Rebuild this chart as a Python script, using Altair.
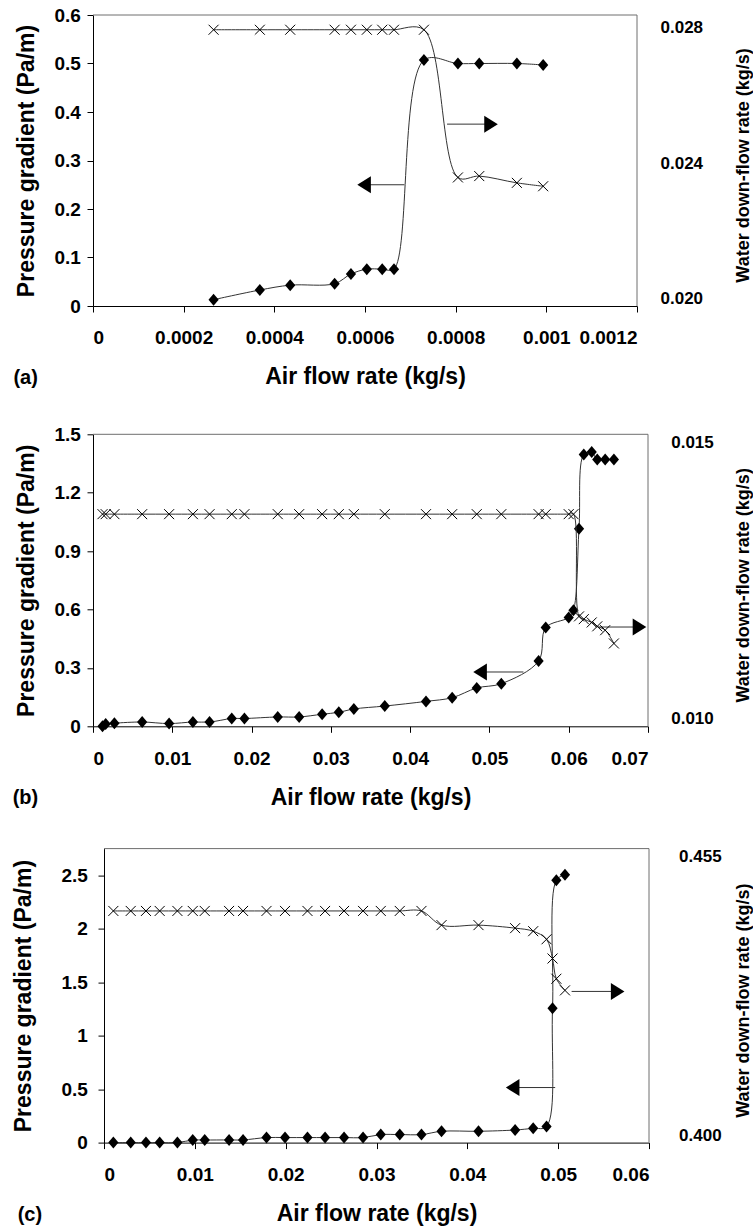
import altair as alt
import pandas as pd

FONT = "Liberation Sans"

# ---------------- Panel (a) ----------------
a_air = [0.000266, 0.000368, 0.000435, 0.000533, 0.000569, 0.000604, 0.000638,
         0.000664, 0.000730, 0.000805, 0.000852, 0.000935, 0.000993]
a_dp = [0.013, 0.033, 0.043, 0.046, 0.066, 0.076, 0.076, 0.076, 0.507, 0.500,
        0.500, 0.500, 0.497]
a_water = [0.02794, 0.02794, 0.02794, 0.02794, 0.02794, 0.02794, 0.02794,
           0.02794, 0.02794, 0.02358, 0.02362, 0.02342, 0.02332]
a_xticks = [0, 0.0002, 0.0004, 0.0006, 0.0008, 0.001, 0.0012]
a_lticks = [0, 0.1, 0.2, 0.3, 0.4, 0.5, 0.6]
a_rticks = [0.020, 0.024, 0.028]
a_arrow_head = [0.000598, 0.000878]
a_arrow_tail = [0.000687, 0.000781]
a_arrow_y = [0.25, 0.375]
a_arrow_dir = ["left", "right"]

# ---------------- Panel (b) ----------------
b_air = [0.0012, 0.0016, 0.0027, 0.0062, 0.0096, 0.0126, 0.0147, 0.0175, 0.0191,
         0.0233, 0.0260, 0.0289, 0.0310, 0.0329, 0.0368, 0.0420, 0.0453, 0.0484,
         0.0515, 0.0562, 0.0571, 0.0600, 0.0606, 0.0613, 0.0619, 0.0629, 0.0636,
         0.0646, 0.0657]
b_dp = [0.0, 0.012, 0.016, 0.022, 0.014, 0.022, 0.022, 0.040, 0.040, 0.048, 0.048,
        0.062, 0.072, 0.089, 0.104, 0.128, 0.147, 0.197, 0.219, 0.335, 0.507,
        0.559, 0.596, 1.015, 1.396, 1.409, 1.370, 1.370, 1.370]
b_water = [0.0137, 0.0137, 0.0137, 0.0137, 0.0137, 0.0137, 0.0137, 0.0137, 0.0137,
           0.0137, 0.0137, 0.0137, 0.0137, 0.0137, 0.0137, 0.0137, 0.0137, 0.0137,
           0.0137, 0.0137, 0.0137, 0.0137, 0.0137, 0.01185, 0.01180, 0.01174,
           0.01167, 0.01160, 0.01136]
b_xticks = [0, 0.01, 0.02, 0.03, 0.04, 0.05, 0.06, 0.07]
b_lticks = [0, 0.3, 0.6, 0.9, 1.2, 1.5]
b_rticks = [0.010, 0.015]
b_arrow_head = [0.04882, 0.06893]
b_arrow_tail = [0.05429, 0.0638]
b_arrow_y = [0.279, 0.51]
b_arrow_dir = ["left", "right"]

# ---------------- Panel (c) ----------------
c_air = [0.00103, 0.00294, 0.00462, 0.00613, 0.00808, 0.00977, 0.01109, 0.01377,
         0.01531, 0.01789, 0.01993, 0.0224, 0.02434, 0.02643, 0.02852, 0.03047,
         0.03256, 0.03495, 0.03716, 0.04123, 0.04526, 0.04725, 0.04872, 0.04938,
         0.0498, 0.05075]
c_dp = [0, 0, 0, 0, 0, 0.024, 0.024, 0.025, 0.025, 0.047, 0.047, 0.047, 0.047,
        0.047, 0.047, 0.075, 0.075, 0.075, 0.106, 0.106, 0.118, 0.134, 0.150,
        1.257, 2.455, 2.505]
c_water = [0.4443, 0.4443, 0.4443, 0.4443, 0.4443, 0.4443, 0.4443, 0.4443,
           0.4443, 0.4443, 0.4443, 0.4443, 0.4443, 0.4443, 0.4443, 0.4443,
           0.4443, 0.4443, 0.4415, 0.4415, 0.4409, 0.4403, 0.4387, 0.4349,
           0.4309, 0.4286]
c_xticks = [0, 0.01, 0.02, 0.03, 0.04, 0.05, 0.06]
c_lticks = [0, 0.5, 1, 1.5, 2, 2.5]
c_rticks = [0.400, 0.455]
c_arrow_head = [0.04499, 0.05655]
c_arrow_tail = [0.04967, 0.05148]
c_arrow_y = [0.515, 1.414]
c_arrow_dir = ["left", "right"]

X_PATH = "M-1,-1L1,1M-1,1L1,-1"
DIAMOND_PATH = "M0,-1L0.85,0L0,1L-0.85,0Z"
TRI_LEFT = "M-0.8,0L0.8,-1L0.8,1Z"
TRI_RIGHT = "M0.8,0L-0.8,-1L-0.8,1Z"
LINE_COLOR = "#333333"
FRAME_COLOR = "#6e6e6e"
ORIGIN = 92.3          # common left edge of the plot group in the page
RTITLE_X = 743         # page x of the right-hand axis title centre


def panel(tag, air, dp, water, xdom, xticks, ldom, lticks, rdom, rticks,
          ahead, atail, ay, adir, W, H, shift, spacer_top, spacer_bottom,
          lpad, ltpad, rpad, tag_left):
    # shift: how far the plot frame starts right of the common origin
    df = pd.DataFrame({"air": air, "dp": dp, "water": water})
    arr = pd.DataFrame({"head": ahead, "tail": atail, "y": ay, "dir": adir})
    one = pd.DataFrame({"k": [0]})
    GW = W + shift

    xscale = alt.Scale(domain=xdom, nice=False, zero=False, range=[shift, GW])
    xaxis = alt.Axis(values=xticks, labelExpr="toString(datum.value)",
                     title="Air flow rate (kg/s)",
                     grid=False, tickSize=6, labelPadding=16.7, titlePadding=18.1,
                     labelFontSize=19, titleFontSize=23)

    def xe(field):
        return alt.X(f"{field}:Q", scale=xscale, axis=xaxis)

    lscale = alt.Scale(domain=ldom, nice=False, zero=False)
    laxis = alt.Axis(values=lticks, labelExpr="toString(datum.value)",
                     title="Pressure gradient (Pa/m)", offset=-shift,
                     orient="left", grid=False, tickSize=6, labelPadding=lpad,
                     titlePadding=ltpad, labelFontSize=19, titleFontSize=23)

    def ye(field):
        return alt.Y(f"{field}:Q", scale=lscale, axis=laxis)

    dp_line = alt.Chart(df).mark_line(
        interpolate="catmull-rom", color=LINE_COLOR, strokeWidth=1
    ).encode(x=xe("air"), y=ye("dp"))
    dp_pts = alt.Chart(df).mark_point(
        shape=DIAMOND_PATH, filled=True, size=144, color="black", opacity=1
    ).encode(x=xe("air"), y=ye("dp"))
    arr_rule = alt.Chart(arr).mark_rule(color=LINE_COLOR, strokeWidth=1).encode(
        x=xe("tail"), x2=alt.X2("head"), y=ye("y"))
    arr_left = alt.Chart(arr).transform_filter(alt.datum.dir == "left").mark_point(
        shape=TRI_LEFT, filled=True, size=289, color="black", opacity=1
    ).encode(x=xe("head"), y=ye("y"))
    arr_right = alt.Chart(arr).transform_filter(alt.datum.dir == "right").mark_point(
        shape=TRI_RIGHT, filled=True, size=289, color="black", opacity=1
    ).encode(x=xe("head"), y=ye("y"))
    # frame: top and right border of the plot area
    frame_top = alt.Chart(one).mark_rule(color=FRAME_COLOR, strokeWidth=1).encode(
        x=alt.value(shift), x2=alt.value(GW), y=alt.value(0))
    frame_right = alt.Chart(one).mark_rule(color=FRAME_COLOR, strokeWidth=1).encode(
        x=alt.value(GW), y=alt.value(0), y2=alt.value(H))
    spacer = alt.Chart(one).mark_rule(opacity=0).encode(
        x=alt.value(-ORIGIN), y=alt.value(-spacer_top),
        y2=alt.value(H + spacer_bottom))
    label = alt.Chart(one).mark_text(
        align="left", baseline="alphabetic", font=FONT, fontSize=20,
        fontWeight="bold", color="black"
    ).encode(x=alt.value(tag_left - ORIGIN), y=alt.value(H + 78),
             text=alt.value(tag))
    rtitle = alt.Chart(one).mark_text(
        align="center", baseline="middle", angle=270, font=FONT, fontSize=18,
        fontWeight="bold", color="black"
    ).encode(x=alt.value(RTITLE_X - ORIGIN), y=alt.value(H / 2 + 5),
             text=alt.value("Water down-flow rate (kg/s)"))

    left = alt.layer(frame_top, frame_right, dp_line, dp_pts, arr_rule, arr_left,
                     arr_right, spacer, label, rtitle)

    rscale = alt.Scale(domain=rdom, nice=False, zero=False)
    raxis = alt.Axis(values=rticks, format=".3f", title=None,
                     orient="right", grid=False, ticks=False, tickSize=0, domain=False,
                     labelPadding=rpad, labelFontSize=17)
    ry = alt.Y("water:Q", scale=rscale, axis=raxis)
    w_line = alt.Chart(df).mark_line(
        interpolate="catmull-rom", color=LINE_COLOR, strokeWidth=1
    ).encode(x=xe("air"), y=ry)
    w_pts = alt.Chart(df).mark_point(
        shape=X_PATH, filled=False, size=100, color="black", strokeWidth=1, opacity=1
    ).encode(x=xe("air"), y=ry)
    right = alt.layer(w_line, w_pts)

    return alt.layer(left, right).resolve_scale(y="independent").properties(
        width=GW, height=H)


pa = panel("(a)", a_air, a_dp, a_water, [0, 0.0012], a_xticks, [0, 0.6], a_lticks,
           [0.019785, 0.028375], a_rticks, a_arrow_head, a_arrow_tail, a_arrow_y,
           a_arrow_dir, 544, 291, 0, 14.3, 92, 6.6, 15.7, 23, 12.7)
pb = panel("(b)", b_air, b_dp, b_water, [0, 0.07], b_xticks, [0, 1.5], b_lticks,
           [0.009861, 0.015145], b_rticks, b_arrow_head, b_arrow_tail, b_arrow_y,
           b_arrow_dir, 555, 292, 0, 18.4, 92, 6.6, 15.7, 22.7, 12.0)
pc = panel("(c)", c_air, c_dp, c_water, [0, 0.06], c_xticks, [0, 2.75], c_lticks,
           [0.398518, 0.456621], c_rticks, c_arrow_head, c_arrow_tail, c_arrow_y,
           c_arrow_dir, 545, 294, 11, 13, 0, 10.6, 25.7, 29.6, 17.0)

chart = alt.vconcat(pa, pb, pc, spacing=17.3).properties(
    padding={"left": 0, "top": 0, "right": 0, "bottom": 0},
    background="white",
).configure_view(
    stroke=None
).configure_axis(
    labelFont=FONT, titleFont=FONT, labelFontWeight="bold", titleFontWeight="bold",
    labelColor="black", titleColor="black", domainColor="black", tickColor="black",
    domainWidth=1, tickWidth=1
)

chart.save("out.html", embed_options={"renderer": "svg", "actions": False})
